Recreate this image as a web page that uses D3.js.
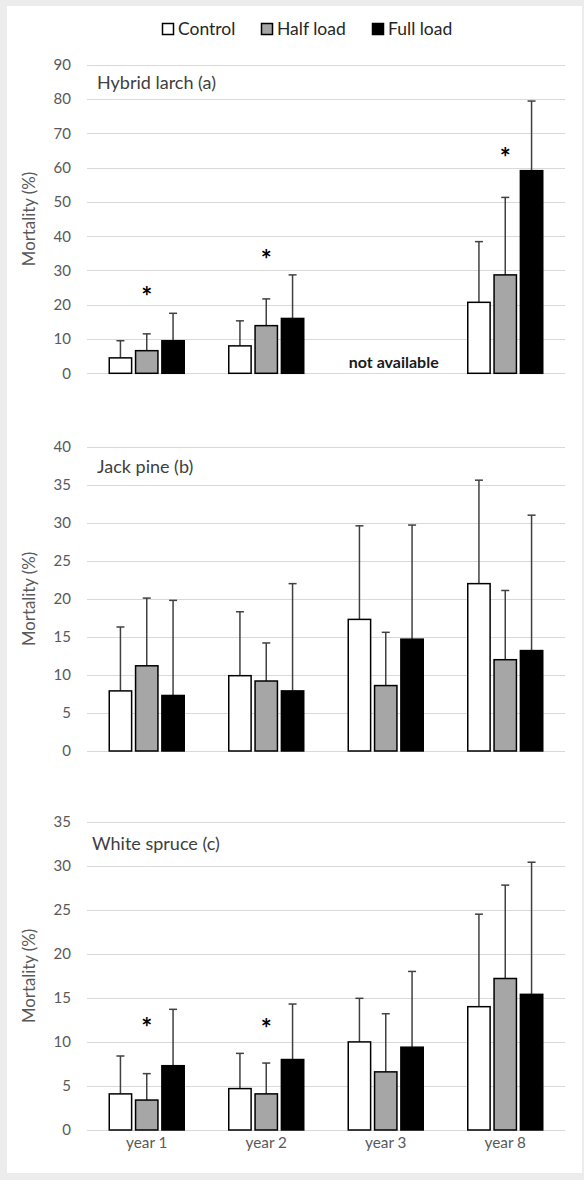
<!DOCTYPE html>
<html>
<head>
<meta charset="utf-8">
<script src="https://cdn.jsdelivr.net/npm/d3@7"></script>
<style>
  body { margin: 0; background: #ececec; }
  svg { display: block; }
  text { font-family: Lato, "Open Sans", sans-serif; }
</style>
</head>
<body>
<div id="chart"></div>
<script>
// categories and series
const years = ["year 1", "year 2", "year 3", "year 8"];
const series = ["Control", "Half load", "Full load"];
const seriesColors = ["#ffffff", "#a6a6a6", "#000000"];

// Hybrid larch (a) - year 3 not available
const larchMean = [[4.5, 6.6, 9.5], [8.0, 13.9, 16.0], null, [20.7, 28.7, 59.1]];
const larchErr = [[9.5, 11.5, 17.5], [15.3, 21.7, 28.7], null, [38.4, 51.3, 79.4]];
const larchStars = [["year 1", 23.8], ["year 2", 34.5], ["year 8", 64.2]];

// Jack pine (b)
const pineMean = [[7.9, 11.2, 7.3], [9.9, 9.2, 7.9], [17.3, 8.6, 14.7], [22.0, 12.0, 13.2]];
const pineErr = [[16.3, 20.1, 19.8], [18.3, 14.2, 22.0], [29.6, 15.6, 29.7], [35.6, 21.1, 31.0]];
const pineStars = [];

// White spruce (c)
const spruceMean = [[4.1, 3.4, 7.3], [4.7, 4.1, 8.0], [10.0, 6.6, 9.4], [14.0, 17.2, 15.4]];
const spruceErr = [[8.4, 6.4, 13.7], [8.7, 7.6, 14.3], [14.95, 13.2, 18.0], [24.5, 27.8, 30.4]];
const spruceStars = [["year 1", 12.1], ["year 2", 12.0]];

const larchTicks = d3.range(0, 91, 10);
const pineTicks = d3.range(0, 41, 5);
const spruceTicks = d3.range(0, 36, 5);

const width = 584, height = 1180;
const svg = d3.select("#chart").append("svg")
    .attr("width", width)
    .attr("height", height);

// white chart area
svg.append("rect")
    .attr("x", 7).attr("y", 6)
    .attr("width", 575).attr("height", 1167)
    .attr("fill", "#fff");

// legend
const legend = svg.append("g");
const legendX = [162, 261, 372];
series.forEach((s, i) => {
    legend.append("rect")
        .attr("x", legendX[i] + 0.5).attr("y", 23.5)
        .attr("width", 11).attr("height", 11)
        .attr("fill", seriesColors[i])
        .attr("stroke", "#000").attr("stroke-width", 1.5);
    legend.append("text")
        .attr("x", legendX[i] + 16).attr("y", 35)
        .attr("font-size", 17.5)
        .attr("fill", "#262626")
        .text(s);
});

const x = d3.scaleBand().domain(years).range([87, 565]);
const xs = d3.scaleBand().domain(series)
    .range([x.bandwidth() / 2 - 37.5, x.bandwidth() / 2 + 37.5])
    .paddingInner(0.15);

function drawPanel(opt) {
    const y = d3.scaleLinear().domain([0, opt.max]).range([opt.bottom, opt.top]);
    const g = svg.append("g");

    // gridlines
    g.selectAll(".grid").data(opt.ticks).enter().append("line")
        .attr("x1", 87).attr("x2", 565)
        .attr("y1", d => Math.round(y(d)) + 0.5)
        .attr("y2", d => Math.round(y(d)) + 0.5)
        .attr("stroke", "#d9d9d9").attr("stroke-width", 1.2);

    // tick labels
    g.selectAll(".tick").data(opt.ticks).enter().append("text")
        .attr("x", 71).attr("y", d => y(d))
        .attr("dy", "0.36em")
        .attr("text-anchor", "end")
        .attr("font-size", 15)
        .attr("fill", "#595959")
        .text(d => d);

    // y axis title
    g.append("text")
        .attr("transform", `translate(35,${(opt.top + opt.bottom) / 2}) rotate(-90)`)
        .attr("text-anchor", "middle")
        .attr("font-size", 16.8)
        .attr("fill", "#595959")
        .text("Mortality (%)");

    // panel title
    g.append("text")
        .attr("x", opt.titleX).attr("y", opt.titleY)
        .attr("font-size", 18)
        .attr("fill", "#404040")
        .text(opt.title);

    years.forEach((yr, i) => {
        const gx = x(yr);
        if (!opt.mean[i]) {
            g.append("text")
                .attr("x", gx + x.bandwidth() / 2 + 8).attr("y", opt.bottom - 5)
                .attr("text-anchor", "middle")
                .attr("font-size", 16)
                .attr("font-weight", "bold")
                .attr("fill", "#1a1a1a")
                .text("not available");
            return;
        }
        series.forEach((s, j) => {
            const bx = gx + xs(s);
            const cx = bx + xs.bandwidth() / 2;
            const v = opt.mean[i][j], e = opt.err[i][j];
            // error bar (upper only)
            g.append("line")
                .attr("x1", cx).attr("x2", cx)
                .attr("y1", y(v)).attr("y2", y(e))
                .attr("stroke", "#404040").attr("stroke-width", 1.5);
            g.append("line")
                .attr("x1", cx - 4).attr("x2", cx + 4)
                .attr("y1", y(e)).attr("y2", y(e))
                .attr("stroke", "#404040").attr("stroke-width", 1.5);
            // bar
            g.append("rect")
                .attr("x", bx).attr("y", y(v))
                .attr("width", xs.bandwidth())
                .attr("height", y(0) - y(v))
                .attr("fill", seriesColors[j])
                .attr("stroke", "#000").attr("stroke-width", 1.5);
        });
    });

    // significance asterisks above Half load bar
    opt.stars.forEach(([yr, lvl]) => {
        g.append("text")
            .attr("x", x(yr) + xs("Half load") + xs.bandwidth() / 2)
            .attr("y", y(lvl) + 14)
            .attr("text-anchor", "middle")
            .attr("font-size", 26)
            .attr("font-weight", "bold")
            .attr("fill", "#000")
            .text("*");
    });

    // x labels on last panel
    if (opt.xLabels) {
        years.forEach(yr => {
            g.append("text")
                .attr("x", x(yr) + x.bandwidth() / 2).attr("y", opt.bottom + 18)
                .attr("text-anchor", "middle")
                .attr("font-size", 15.3)
                .attr("fill", "#595959")
                .text(yr);
        });
    }
}

drawPanel({ title: "Hybrid larch (a)", titleX: 97, titleY: 89, max: 90, ticks: larchTicks,
    top: 64.7, bottom: 373.3, mean: larchMean, err: larchErr, stars: larchStars });
drawPanel({ title: "Jack pine (b)", titleX: 97, titleY: 473, max: 40, ticks: pineTicks,
    top: 446.7, bottom: 751, mean: pineMean, err: pineErr, stars: pineStars });
drawPanel({ title: "White spruce (c)", titleX: 92, titleY: 849.5, max: 35, ticks: spruceTicks,
    top: 821.7, bottom: 1130, mean: spruceMean, err: spruceErr, stars: spruceStars, xLabels: true });
</script>
</body>
</html>
